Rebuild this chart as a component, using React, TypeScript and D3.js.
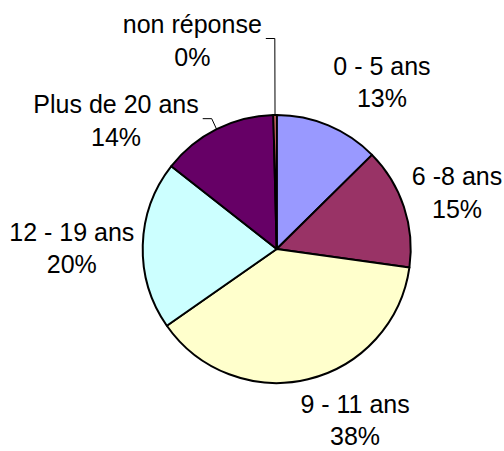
import React from 'react'
import * as d3 from 'd3'

// slices, clockwise from 12 o'clock
const categories = ["0 - 5 ans", "6 -8 ans", "9 - 11 ans", "12 - 19 ans", "Plus de 20 ans", "non réponse"];
const values = [12.6, 14.6, 38.1, 20.3, 14.0, 0.4];
const colors = ["#9999FF", "#993366", "#FFFFCC", "#CCFFFF", "#660066", "#FF8080"];

// manual nudges of the labels (Excel-style dragged labels), from the label ring
const labelOffsets = [[32, 9], [0, 4], [34, -13], [-15, 5], [-75.5, 42], [-82, -18]];
const hasLeader = [false, false, false, false, true, true];

class PieChart extends React.Component<{}> {
    chartRef: React.RefObject<SVGSVGElement | null>;

    constructor(props: {}) {
        super(props);
        this.state = { width: 504, height: 451 };
        this.chartRef = React.createRef();
        this.drawChart = this.drawChart.bind(this);
    }

    drawChart() {
        const width = 504, height = 451;
        const cx = 276.7, cy = 249, radius = 134;
        const fontSize = 25, lineGap = 32.5;

        const svg = d3.select(this.chartRef.current);
        svg.selectAll("*").remove();
        svg.append("rect").attr("width", width).attr("height", height).attr("fill", "#ffffff");

        const g = svg.append("g").attr("transform", "translate(" + cx + "," + cy + ")");

        const pie = d3.pie<number>().sort(null).value((d) => d);
        const arcs = pie(values);
        const total = d3.sum(values);

        const arc = d3.arc<d3.PieArcDatum<number>>().innerRadius(0).outerRadius(radius);
        const labelArc = d3.arc<d3.PieArcDatum<number>>().innerRadius(190).outerRadius(190);
        const edgeArc = d3.arc<d3.PieArcDatum<number>>().innerRadius(radius).outerRadius(radius);

        // slices
        g.selectAll("path.slice")
            .data(arcs)
            .enter()
            .append("path")
            .attr("class", "slice")
            .attr("d", arc)
            .attr("fill", (d, i) => colors[i])
            .attr("stroke", "#000")
            .attr("stroke-width", 2)
            .attr("stroke-linejoin", "round");

        // labels
        arcs.forEach((d, i) => {
            const c = labelArc.centroid(d);
            const x = c[0] + labelOffsets[i][0];
            const y = c[1] + labelOffsets[i][1];
            const b1 = y - 8;
            const pct = Math.round(d.data / total * 100) + "%";

            const text = g.append("text")
                .attr("text-anchor", "middle")
                .attr("font-family", "'Liberation Sans', Arial, sans-serif")
                .attr("font-size", fontSize)
                .attr("fill", "#000");
            const t1 = text.append("tspan").attr("x", x).attr("y", b1).text(categories[i]);
            text.append("tspan").attr("x", x).attr("y", b1 + lineGap).text(pct);

            if (hasLeader[i]) {
                const w = (t1.node() as SVGTextContentElement).getComputedTextLength();
                const sx = x + w / 2 + 4;
                const sy = b1 + 5.5;
                const e = edgeArc.centroid(d);
                g.append("path")
                    .attr("d", d3.line()([[sx, sy], [sx + 9, sy], [e[0], e[1]]]))
                    .attr("fill", "none")
                    .attr("stroke", "#000")
                    .attr("stroke-width", 1);
            }
        });
    }

    componentDidMount() {
        this.drawChart();
    }

    render() {
        return (
            <svg ref={this.chartRef} width={504} height={451}
                style={{ position: 'absolute', left: 0, top: 0, display: 'block' }} />
        );
    }
}

export default function App() {
    return <PieChart />;
}
